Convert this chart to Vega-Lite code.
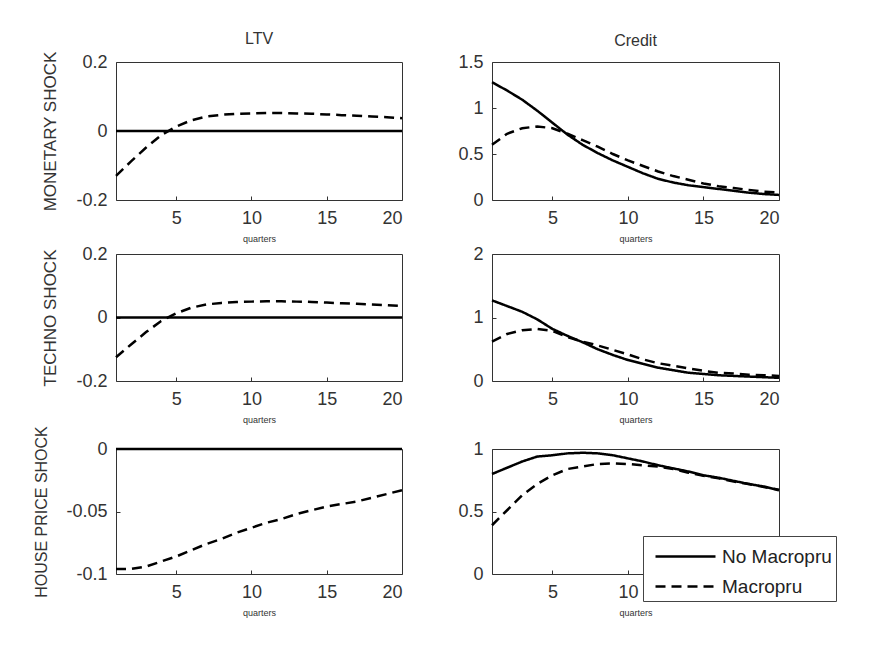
{
  "$schema": "https://vega.github.io/schema/vega-lite/v6.json",
  "padding": {"left": 33, "top": 30, "right": 5, "bottom": 5},
  "background": "white",
  "datasets": {
    "irf": [
      {"shock":"Monetary","variable":"LTV","series":"No Macropru","quarter":1,"value":0},{"shock":"Monetary","variable":"LTV","series":"No Macropru","quarter":2,"value":0},{"shock":"Monetary","variable":"LTV","series":"No Macropru","quarter":3,"value":0},{"shock":"Monetary","variable":"LTV","series":"No Macropru","quarter":4,"value":0},{"shock":"Monetary","variable":"LTV","series":"No Macropru","quarter":5,"value":0},{"shock":"Monetary","variable":"LTV","series":"No Macropru","quarter":6,"value":0},{"shock":"Monetary","variable":"LTV","series":"No Macropru","quarter":7,"value":0},{"shock":"Monetary","variable":"LTV","series":"No Macropru","quarter":8,"value":0},{"shock":"Monetary","variable":"LTV","series":"No Macropru","quarter":9,"value":0},{"shock":"Monetary","variable":"LTV","series":"No Macropru","quarter":10,"value":0},{"shock":"Monetary","variable":"LTV","series":"No Macropru","quarter":11,"value":0},{"shock":"Monetary","variable":"LTV","series":"No Macropru","quarter":12,"value":0},{"shock":"Monetary","variable":"LTV","series":"No Macropru","quarter":13,"value":0},{"shock":"Monetary","variable":"LTV","series":"No Macropru","quarter":14,"value":0},{"shock":"Monetary","variable":"LTV","series":"No Macropru","quarter":15,"value":0},{"shock":"Monetary","variable":"LTV","series":"No Macropru","quarter":16,"value":0},{"shock":"Monetary","variable":"LTV","series":"No Macropru","quarter":17,"value":0},{"shock":"Monetary","variable":"LTV","series":"No Macropru","quarter":18,"value":0},{"shock":"Monetary","variable":"LTV","series":"No Macropru","quarter":19,"value":0},{"shock":"Monetary","variable":"LTV","series":"No Macropru","quarter":20,"value":0},
      {"shock":"Monetary","variable":"LTV","series":"Macropru","quarter":1,"value":-0.13},{"shock":"Monetary","variable":"LTV","series":"Macropru","quarter":2,"value":-0.088},{"shock":"Monetary","variable":"LTV","series":"Macropru","quarter":3,"value":-0.048},{"shock":"Monetary","variable":"LTV","series":"Macropru","quarter":4,"value":-0.012},{"shock":"Monetary","variable":"LTV","series":"Macropru","quarter":5,"value":0.013},{"shock":"Monetary","variable":"LTV","series":"Macropru","quarter":6,"value":0.031},{"shock":"Monetary","variable":"LTV","series":"Macropru","quarter":7,"value":0.042},{"shock":"Monetary","variable":"LTV","series":"Macropru","quarter":8,"value":0.047},{"shock":"Monetary","variable":"LTV","series":"Macropru","quarter":9,"value":0.05},{"shock":"Monetary","variable":"LTV","series":"Macropru","quarter":10,"value":0.051},{"shock":"Monetary","variable":"LTV","series":"Macropru","quarter":11,"value":0.052},{"shock":"Monetary","variable":"LTV","series":"Macropru","quarter":12,"value":0.052},{"shock":"Monetary","variable":"LTV","series":"Macropru","quarter":13,"value":0.051},{"shock":"Monetary","variable":"LTV","series":"Macropru","quarter":14,"value":0.05},{"shock":"Monetary","variable":"LTV","series":"Macropru","quarter":15,"value":0.048},{"shock":"Monetary","variable":"LTV","series":"Macropru","quarter":16,"value":0.046},{"shock":"Monetary","variable":"LTV","series":"Macropru","quarter":17,"value":0.044},{"shock":"Monetary","variable":"LTV","series":"Macropru","quarter":18,"value":0.042},{"shock":"Monetary","variable":"LTV","series":"Macropru","quarter":19,"value":0.04},{"shock":"Monetary","variable":"LTV","series":"Macropru","quarter":20,"value":0.037},
      {"shock":"Monetary","variable":"Credit","series":"No Macropru","quarter":1,"value":1.28},{"shock":"Monetary","variable":"Credit","series":"No Macropru","quarter":2,"value":1.19},{"shock":"Monetary","variable":"Credit","series":"No Macropru","quarter":3,"value":1.09},{"shock":"Monetary","variable":"Credit","series":"No Macropru","quarter":4,"value":0.97},{"shock":"Monetary","variable":"Credit","series":"No Macropru","quarter":5,"value":0.84},{"shock":"Monetary","variable":"Credit","series":"No Macropru","quarter":6,"value":0.71},{"shock":"Monetary","variable":"Credit","series":"No Macropru","quarter":7,"value":0.6},{"shock":"Monetary","variable":"Credit","series":"No Macropru","quarter":8,"value":0.51},{"shock":"Monetary","variable":"Credit","series":"No Macropru","quarter":9,"value":0.43},{"shock":"Monetary","variable":"Credit","series":"No Macropru","quarter":10,"value":0.36},{"shock":"Monetary","variable":"Credit","series":"No Macropru","quarter":11,"value":0.29},{"shock":"Monetary","variable":"Credit","series":"No Macropru","quarter":12,"value":0.23},{"shock":"Monetary","variable":"Credit","series":"No Macropru","quarter":13,"value":0.19},{"shock":"Monetary","variable":"Credit","series":"No Macropru","quarter":14,"value":0.16},{"shock":"Monetary","variable":"Credit","series":"No Macropru","quarter":15,"value":0.14},{"shock":"Monetary","variable":"Credit","series":"No Macropru","quarter":16,"value":0.12},{"shock":"Monetary","variable":"Credit","series":"No Macropru","quarter":17,"value":0.1},{"shock":"Monetary","variable":"Credit","series":"No Macropru","quarter":18,"value":0.08},{"shock":"Monetary","variable":"Credit","series":"No Macropru","quarter":19,"value":0.065},{"shock":"Monetary","variable":"Credit","series":"No Macropru","quarter":20,"value":0.055},
      {"shock":"Monetary","variable":"Credit","series":"Macropru","quarter":1,"value":0.6},{"shock":"Monetary","variable":"Credit","series":"Macropru","quarter":2,"value":0.72},{"shock":"Monetary","variable":"Credit","series":"Macropru","quarter":3,"value":0.78},{"shock":"Monetary","variable":"Credit","series":"Macropru","quarter":4,"value":0.8},{"shock":"Monetary","variable":"Credit","series":"Macropru","quarter":5,"value":0.78},{"shock":"Monetary","variable":"Credit","series":"Macropru","quarter":6,"value":0.72},{"shock":"Monetary","variable":"Credit","series":"Macropru","quarter":7,"value":0.65},{"shock":"Monetary","variable":"Credit","series":"Macropru","quarter":8,"value":0.58},{"shock":"Monetary","variable":"Credit","series":"Macropru","quarter":9,"value":0.5},{"shock":"Monetary","variable":"Credit","series":"Macropru","quarter":10,"value":0.43},{"shock":"Monetary","variable":"Credit","series":"Macropru","quarter":11,"value":0.37},{"shock":"Monetary","variable":"Credit","series":"Macropru","quarter":12,"value":0.31},{"shock":"Monetary","variable":"Credit","series":"Macropru","quarter":13,"value":0.26},{"shock":"Monetary","variable":"Credit","series":"Macropru","quarter":14,"value":0.22},{"shock":"Monetary","variable":"Credit","series":"Macropru","quarter":15,"value":0.18},{"shock":"Monetary","variable":"Credit","series":"Macropru","quarter":16,"value":0.15},{"shock":"Monetary","variable":"Credit","series":"Macropru","quarter":17,"value":0.13},{"shock":"Monetary","variable":"Credit","series":"Macropru","quarter":18,"value":0.11},{"shock":"Monetary","variable":"Credit","series":"Macropru","quarter":19,"value":0.09},{"shock":"Monetary","variable":"Credit","series":"Macropru","quarter":20,"value":0.08},
      {"shock":"Techno","variable":"LTV","series":"No Macropru","quarter":1,"value":0},{"shock":"Techno","variable":"LTV","series":"No Macropru","quarter":2,"value":0},{"shock":"Techno","variable":"LTV","series":"No Macropru","quarter":3,"value":0},{"shock":"Techno","variable":"LTV","series":"No Macropru","quarter":4,"value":0},{"shock":"Techno","variable":"LTV","series":"No Macropru","quarter":5,"value":0},{"shock":"Techno","variable":"LTV","series":"No Macropru","quarter":6,"value":0},{"shock":"Techno","variable":"LTV","series":"No Macropru","quarter":7,"value":0},{"shock":"Techno","variable":"LTV","series":"No Macropru","quarter":8,"value":0},{"shock":"Techno","variable":"LTV","series":"No Macropru","quarter":9,"value":0},{"shock":"Techno","variable":"LTV","series":"No Macropru","quarter":10,"value":0},{"shock":"Techno","variable":"LTV","series":"No Macropru","quarter":11,"value":0},{"shock":"Techno","variable":"LTV","series":"No Macropru","quarter":12,"value":0},{"shock":"Techno","variable":"LTV","series":"No Macropru","quarter":13,"value":0},{"shock":"Techno","variable":"LTV","series":"No Macropru","quarter":14,"value":0},{"shock":"Techno","variable":"LTV","series":"No Macropru","quarter":15,"value":0},{"shock":"Techno","variable":"LTV","series":"No Macropru","quarter":16,"value":0},{"shock":"Techno","variable":"LTV","series":"No Macropru","quarter":17,"value":0},{"shock":"Techno","variable":"LTV","series":"No Macropru","quarter":18,"value":0},{"shock":"Techno","variable":"LTV","series":"No Macropru","quarter":19,"value":0},{"shock":"Techno","variable":"LTV","series":"No Macropru","quarter":20,"value":0},
      {"shock":"Techno","variable":"LTV","series":"Macropru","quarter":1,"value":-0.125},{"shock":"Techno","variable":"LTV","series":"Macropru","quarter":2,"value":-0.085},{"shock":"Techno","variable":"LTV","series":"Macropru","quarter":3,"value":-0.046},{"shock":"Techno","variable":"LTV","series":"Macropru","quarter":4,"value":-0.011},{"shock":"Techno","variable":"LTV","series":"Macropru","quarter":5,"value":0.013},{"shock":"Techno","variable":"LTV","series":"Macropru","quarter":6,"value":0.031},{"shock":"Techno","variable":"LTV","series":"Macropru","quarter":7,"value":0.041},{"shock":"Techno","variable":"LTV","series":"Macropru","quarter":8,"value":0.046},{"shock":"Techno","variable":"LTV","series":"Macropru","quarter":9,"value":0.049},{"shock":"Techno","variable":"LTV","series":"Macropru","quarter":10,"value":0.05},{"shock":"Techno","variable":"LTV","series":"Macropru","quarter":11,"value":0.051},{"shock":"Techno","variable":"LTV","series":"Macropru","quarter":12,"value":0.051},{"shock":"Techno","variable":"LTV","series":"Macropru","quarter":13,"value":0.05},{"shock":"Techno","variable":"LTV","series":"Macropru","quarter":14,"value":0.049},{"shock":"Techno","variable":"LTV","series":"Macropru","quarter":15,"value":0.047},{"shock":"Techno","variable":"LTV","series":"Macropru","quarter":16,"value":0.045},{"shock":"Techno","variable":"LTV","series":"Macropru","quarter":17,"value":0.043},{"shock":"Techno","variable":"LTV","series":"Macropru","quarter":18,"value":0.041},{"shock":"Techno","variable":"LTV","series":"Macropru","quarter":19,"value":0.039},{"shock":"Techno","variable":"LTV","series":"Macropru","quarter":20,"value":0.036},
      {"shock":"Techno","variable":"Credit","series":"No Macropru","quarter":1,"value":1.27},{"shock":"Techno","variable":"Credit","series":"No Macropru","quarter":2,"value":1.18},{"shock":"Techno","variable":"Credit","series":"No Macropru","quarter":3,"value":1.09},{"shock":"Techno","variable":"Credit","series":"No Macropru","quarter":4,"value":0.97},{"shock":"Techno","variable":"Credit","series":"No Macropru","quarter":5,"value":0.82},{"shock":"Techno","variable":"Credit","series":"No Macropru","quarter":6,"value":0.71},{"shock":"Techno","variable":"Credit","series":"No Macropru","quarter":7,"value":0.61},{"shock":"Techno","variable":"Credit","series":"No Macropru","quarter":8,"value":0.5},{"shock":"Techno","variable":"Credit","series":"No Macropru","quarter":9,"value":0.41},{"shock":"Techno","variable":"Credit","series":"No Macropru","quarter":10,"value":0.33},{"shock":"Techno","variable":"Credit","series":"No Macropru","quarter":11,"value":0.27},{"shock":"Techno","variable":"Credit","series":"No Macropru","quarter":12,"value":0.21},{"shock":"Techno","variable":"Credit","series":"No Macropru","quarter":13,"value":0.17},{"shock":"Techno","variable":"Credit","series":"No Macropru","quarter":14,"value":0.13},{"shock":"Techno","variable":"Credit","series":"No Macropru","quarter":15,"value":0.11},{"shock":"Techno","variable":"Credit","series":"No Macropru","quarter":16,"value":0.09},{"shock":"Techno","variable":"Credit","series":"No Macropru","quarter":17,"value":0.08},{"shock":"Techno","variable":"Credit","series":"No Macropru","quarter":18,"value":0.07},{"shock":"Techno","variable":"Credit","series":"No Macropru","quarter":19,"value":0.06},{"shock":"Techno","variable":"Credit","series":"No Macropru","quarter":20,"value":0.05},
      {"shock":"Techno","variable":"Credit","series":"Macropru","quarter":1,"value":0.62},{"shock":"Techno","variable":"Credit","series":"Macropru","quarter":2,"value":0.74},{"shock":"Techno","variable":"Credit","series":"Macropru","quarter":3,"value":0.8},{"shock":"Techno","variable":"Credit","series":"Macropru","quarter":4,"value":0.82},{"shock":"Techno","variable":"Credit","series":"Macropru","quarter":5,"value":0.79},{"shock":"Techno","variable":"Credit","series":"Macropru","quarter":6,"value":0.69},{"shock":"Techno","variable":"Credit","series":"Macropru","quarter":7,"value":0.62},{"shock":"Techno","variable":"Credit","series":"Macropru","quarter":8,"value":0.56},{"shock":"Techno","variable":"Credit","series":"Macropru","quarter":9,"value":0.49},{"shock":"Techno","variable":"Credit","series":"Macropru","quarter":10,"value":0.42},{"shock":"Techno","variable":"Credit","series":"Macropru","quarter":11,"value":0.34},{"shock":"Techno","variable":"Credit","series":"Macropru","quarter":12,"value":0.28},{"shock":"Techno","variable":"Credit","series":"Macropru","quarter":13,"value":0.24},{"shock":"Techno","variable":"Credit","series":"Macropru","quarter":14,"value":0.2},{"shock":"Techno","variable":"Credit","series":"Macropru","quarter":15,"value":0.16},{"shock":"Techno","variable":"Credit","series":"Macropru","quarter":16,"value":0.13},{"shock":"Techno","variable":"Credit","series":"Macropru","quarter":17,"value":0.12},{"shock":"Techno","variable":"Credit","series":"Macropru","quarter":18,"value":0.1},{"shock":"Techno","variable":"Credit","series":"Macropru","quarter":19,"value":0.09},{"shock":"Techno","variable":"Credit","series":"Macropru","quarter":20,"value":0.08},
      {"shock":"House price","variable":"LTV","series":"No Macropru","quarter":1,"value":0},{"shock":"House price","variable":"LTV","series":"No Macropru","quarter":2,"value":0},{"shock":"House price","variable":"LTV","series":"No Macropru","quarter":3,"value":0},{"shock":"House price","variable":"LTV","series":"No Macropru","quarter":4,"value":0},{"shock":"House price","variable":"LTV","series":"No Macropru","quarter":5,"value":0},{"shock":"House price","variable":"LTV","series":"No Macropru","quarter":6,"value":0},{"shock":"House price","variable":"LTV","series":"No Macropru","quarter":7,"value":0},{"shock":"House price","variable":"LTV","series":"No Macropru","quarter":8,"value":0},{"shock":"House price","variable":"LTV","series":"No Macropru","quarter":9,"value":0},{"shock":"House price","variable":"LTV","series":"No Macropru","quarter":10,"value":0},{"shock":"House price","variable":"LTV","series":"No Macropru","quarter":11,"value":0},{"shock":"House price","variable":"LTV","series":"No Macropru","quarter":12,"value":0},{"shock":"House price","variable":"LTV","series":"No Macropru","quarter":13,"value":0},{"shock":"House price","variable":"LTV","series":"No Macropru","quarter":14,"value":0},{"shock":"House price","variable":"LTV","series":"No Macropru","quarter":15,"value":0},{"shock":"House price","variable":"LTV","series":"No Macropru","quarter":16,"value":0},{"shock":"House price","variable":"LTV","series":"No Macropru","quarter":17,"value":0},{"shock":"House price","variable":"LTV","series":"No Macropru","quarter":18,"value":0},{"shock":"House price","variable":"LTV","series":"No Macropru","quarter":19,"value":0},{"shock":"House price","variable":"LTV","series":"No Macropru","quarter":20,"value":0},
      {"shock":"House price","variable":"LTV","series":"Macropru","quarter":1,"value":-0.096},{"shock":"House price","variable":"LTV","series":"Macropru","quarter":2,"value":-0.096},{"shock":"House price","variable":"LTV","series":"Macropru","quarter":3,"value":-0.094},{"shock":"House price","variable":"LTV","series":"Macropru","quarter":4,"value":-0.09},{"shock":"House price","variable":"LTV","series":"Macropru","quarter":5,"value":-0.086},{"shock":"House price","variable":"LTV","series":"Macropru","quarter":6,"value":-0.081},{"shock":"House price","variable":"LTV","series":"Macropru","quarter":7,"value":-0.076},{"shock":"House price","variable":"LTV","series":"Macropru","quarter":8,"value":-0.072},{"shock":"House price","variable":"LTV","series":"Macropru","quarter":9,"value":-0.067},{"shock":"House price","variable":"LTV","series":"Macropru","quarter":10,"value":-0.063},{"shock":"House price","variable":"LTV","series":"Macropru","quarter":11,"value":-0.059},{"shock":"House price","variable":"LTV","series":"Macropru","quarter":12,"value":-0.056},{"shock":"House price","variable":"LTV","series":"Macropru","quarter":13,"value":-0.052},{"shock":"House price","variable":"LTV","series":"Macropru","quarter":14,"value":-0.049},{"shock":"House price","variable":"LTV","series":"Macropru","quarter":15,"value":-0.046},{"shock":"House price","variable":"LTV","series":"Macropru","quarter":16,"value":-0.044},{"shock":"House price","variable":"LTV","series":"Macropru","quarter":17,"value":-0.042},{"shock":"House price","variable":"LTV","series":"Macropru","quarter":18,"value":-0.039},{"shock":"House price","variable":"LTV","series":"Macropru","quarter":19,"value":-0.036},{"shock":"House price","variable":"LTV","series":"Macropru","quarter":20,"value":-0.033},
      {"shock":"House price","variable":"Credit","series":"No Macropru","quarter":1,"value":0.8},{"shock":"House price","variable":"Credit","series":"No Macropru","quarter":2,"value":0.85},{"shock":"House price","variable":"Credit","series":"No Macropru","quarter":3,"value":0.9},{"shock":"House price","variable":"Credit","series":"No Macropru","quarter":4,"value":0.94},{"shock":"House price","variable":"Credit","series":"No Macropru","quarter":5,"value":0.95},{"shock":"House price","variable":"Credit","series":"No Macropru","quarter":6,"value":0.965},{"shock":"House price","variable":"Credit","series":"No Macropru","quarter":7,"value":0.97},{"shock":"House price","variable":"Credit","series":"No Macropru","quarter":8,"value":0.965},{"shock":"House price","variable":"Credit","series":"No Macropru","quarter":9,"value":0.95},{"shock":"House price","variable":"Credit","series":"No Macropru","quarter":10,"value":0.925},{"shock":"House price","variable":"Credit","series":"No Macropru","quarter":11,"value":0.9},{"shock":"House price","variable":"Credit","series":"No Macropru","quarter":12,"value":0.87},{"shock":"House price","variable":"Credit","series":"No Macropru","quarter":13,"value":0.845},{"shock":"House price","variable":"Credit","series":"No Macropru","quarter":14,"value":0.82},{"shock":"House price","variable":"Credit","series":"No Macropru","quarter":15,"value":0.79},{"shock":"House price","variable":"Credit","series":"No Macropru","quarter":16,"value":0.77},{"shock":"House price","variable":"Credit","series":"No Macropru","quarter":17,"value":0.745},{"shock":"House price","variable":"Credit","series":"No Macropru","quarter":18,"value":0.72},{"shock":"House price","variable":"Credit","series":"No Macropru","quarter":19,"value":0.7},{"shock":"House price","variable":"Credit","series":"No Macropru","quarter":20,"value":0.67},
      {"shock":"House price","variable":"Credit","series":"Macropru","quarter":1,"value":0.39},{"shock":"House price","variable":"Credit","series":"Macropru","quarter":2,"value":0.51},{"shock":"House price","variable":"Credit","series":"Macropru","quarter":3,"value":0.63},{"shock":"House price","variable":"Credit","series":"Macropru","quarter":4,"value":0.72},{"shock":"House price","variable":"Credit","series":"Macropru","quarter":5,"value":0.79},{"shock":"House price","variable":"Credit","series":"Macropru","quarter":6,"value":0.84},{"shock":"House price","variable":"Credit","series":"Macropru","quarter":7,"value":0.86},{"shock":"House price","variable":"Credit","series":"Macropru","quarter":8,"value":0.88},{"shock":"House price","variable":"Credit","series":"Macropru","quarter":9,"value":0.885},{"shock":"House price","variable":"Credit","series":"Macropru","quarter":10,"value":0.88},{"shock":"House price","variable":"Credit","series":"Macropru","quarter":11,"value":0.87},{"shock":"House price","variable":"Credit","series":"Macropru","quarter":12,"value":0.86},{"shock":"House price","variable":"Credit","series":"Macropru","quarter":13,"value":0.84},{"shock":"House price","variable":"Credit","series":"Macropru","quarter":14,"value":0.81},{"shock":"House price","variable":"Credit","series":"Macropru","quarter":15,"value":0.785},{"shock":"House price","variable":"Credit","series":"Macropru","quarter":16,"value":0.765},{"shock":"House price","variable":"Credit","series":"Macropru","quarter":17,"value":0.74},{"shock":"House price","variable":"Credit","series":"Macropru","quarter":18,"value":0.72},{"shock":"House price","variable":"Credit","series":"Macropru","quarter":19,"value":0.695},{"shock":"House price","variable":"Credit","series":"Macropru","quarter":20,"value":0.675}
    ]
  },
  "columns": 2,
  "spacing": {"row": 0, "column": 49},
  "align": "each",
  "bounds": "full",
  "concat": [
    {
      "width": 286, "height": 138,
      "title": "LTV",
      "data": {"name": "irf"},
      "transform": [{"filter": "datum.shock === 'Monetary' && datum.variable === 'LTV'"}],
      "mark": {"type": "line", "color": "black", "strokeWidth": 2.5},
      "encoding": {
        "x": {"field": "quarter", "type": "quantitative", "scale": {"domain": [1, 20], "nice": false, "zero": false}, "axis": {"values": [5, 10, 15, 20], "title": "quarters"}},
        "y": {"field": "value", "type": "quantitative", "scale": {"domain": [-0.2, 0.2], "nice": false, "zero": false}, "axis": {"values": [-0.2, 0, 0.2], "title": "MONETARY SHOCK", "titleFontSize": 17}},
        "strokeDash": {"field": "series", "type": "nominal", "scale": {"domain": ["No Macropru", "Macropru"], "range": [[1, 0], [10, 6]]}, "legend": {"title": null}}
      }
    },
    {
      "width": 287, "height": 138,
      "title": "Credit",
      "data": {"name": "irf"},
      "transform": [{"filter": "datum.shock === 'Monetary' && datum.variable === 'Credit'"}],
      "mark": {"type": "line", "color": "black", "strokeWidth": 2.5},
      "encoding": {
        "x": {"field": "quarter", "type": "quantitative", "scale": {"domain": [1, 20], "nice": false, "zero": false}, "axis": {"values": [5, 10, 15, 20], "title": "quarters"}},
        "y": {"field": "value", "type": "quantitative", "scale": {"domain": [0, 1.5], "nice": false, "zero": false}, "axis": {"values": [0, 0.5, 1, 1.5], "title": null}},
        "strokeDash": {"field": "series", "type": "nominal", "scale": {"domain": ["No Macropru", "Macropru"], "range": [[1, 0], [10, 6]]}, "legend": {"title": null}}
      }
    },
    {
      "width": 286, "height": 127,
      "data": {"name": "irf"},
      "transform": [{"filter": "datum.shock === 'Techno' && datum.variable === 'LTV'"}],
      "mark": {"type": "line", "color": "black", "strokeWidth": 2.5},
      "encoding": {
        "x": {"field": "quarter", "type": "quantitative", "scale": {"domain": [1, 20], "nice": false, "zero": false}, "axis": {"values": [5, 10, 15, 20], "title": "quarters"}},
        "y": {"field": "value", "type": "quantitative", "scale": {"domain": [-0.2, 0.2], "nice": false, "zero": false}, "axis": {"values": [-0.2, 0, 0.2], "title": "TECHNO SHOCK", "titleFontSize": 17}},
        "strokeDash": {"field": "series", "type": "nominal", "scale": {"domain": ["No Macropru", "Macropru"], "range": [[1, 0], [10, 6]]}, "legend": {"title": null}}
      }
    },
    {
      "width": 287, "height": 127,
      "data": {"name": "irf"},
      "transform": [{"filter": "datum.shock === 'Techno' && datum.variable === 'Credit'"}],
      "mark": {"type": "line", "color": "black", "strokeWidth": 2.5},
      "encoding": {
        "x": {"field": "quarter", "type": "quantitative", "scale": {"domain": [1, 20], "nice": false, "zero": false}, "axis": {"values": [5, 10, 15, 20], "title": "quarters"}},
        "y": {"field": "value", "type": "quantitative", "scale": {"domain": [0, 2], "nice": false, "zero": false}, "axis": {"values": [0, 1, 2], "title": null}},
        "strokeDash": {"field": "series", "type": "nominal", "scale": {"domain": ["No Macropru", "Macropru"], "range": [[1, 0], [10, 6]]}, "legend": {"title": null}}
      }
    },
    {
      "width": 286, "height": 125,
      "data": {"name": "irf"},
      "transform": [{"filter": "datum.shock === 'House price' && datum.variable === 'LTV'"}],
      "mark": {"type": "line", "color": "black", "strokeWidth": 2.5},
      "encoding": {
        "x": {"field": "quarter", "type": "quantitative", "scale": {"domain": [1, 20], "nice": false, "zero": false}, "axis": {"values": [5, 10, 15, 20], "title": "quarters"}},
        "y": {"field": "value", "type": "quantitative", "scale": {"domain": [-0.1, 0], "nice": false, "zero": false}, "axis": {"values": [-0.1, -0.05, 0], "title": "HOUSE PRICE SHOCK", "titleFontSize": 16}},
        "strokeDash": {"field": "series", "type": "nominal", "scale": {"domain": ["No Macropru", "Macropru"], "range": [[1, 0], [10, 6]]}, "legend": {"title": null}}
      }
    },
    {
      "width": 287, "height": 125,
      "data": {"name": "irf"},
      "transform": [{"filter": "datum.shock === 'House price' && datum.variable === 'Credit'"}],
      "mark": {"type": "line", "color": "black", "strokeWidth": 2.5},
      "encoding": {
        "x": {"field": "quarter", "type": "quantitative", "scale": {"domain": [1, 20], "nice": false, "zero": false}, "axis": {"values": [5, 10, 15, 20], "title": "quarters"}},
        "y": {"field": "value", "type": "quantitative", "scale": {"domain": [0, 1], "nice": false, "zero": false}, "axis": {"values": [0, 0.5, 1], "title": null}},
        "strokeDash": {"field": "series", "type": "nominal", "scale": {"domain": ["No Macropru", "Macropru"], "range": [[1, 0], [10, 6]]}, "legend": {"title": null}}
      }
    }
  ],
  "config": {
    "font": "Liberation Sans",
    "view": {"stroke": "#333", "strokeWidth": 1},
    "axis": {"grid": false, "domain": false, "labelFontSize": 18, "labelColor": "#333", "labelFont": "Liberation Sans", "tickColor": "#333", "tickSize": -4, "tickWidth": 1, "labelPadding": 13, "titleFont": "Liberation Sans", "titleFontWeight": "normal", "titleColor": "#333", "labelExpr": "'' + datum.value"},
    "axisX": {"titleFontSize": 9, "titlePadding": 7},
    "axisY": {"titlePadding": 16},
    "title": {"fontSize": 16, "fontWeight": "normal", "color": "#333", "offset": 4, "anchor": "middle", "font": "Liberation Sans"},
    "legend": {"orient": "none", "legendX": 527, "legendY": 474, "symbolType": "M-2,0H2", "symbolSize": 900, "symbolStrokeWidth": 2.5, "symbolStrokeColor": "black", "symbolOffset": 22, "labelFontSize": 19, "labelColor": "#222", "labelFont": "Liberation Sans", "labelOffset": 20, "fillColor": "white", "strokeColor": "#444", "padding": 4, "rowPadding": 3}
  }
}
